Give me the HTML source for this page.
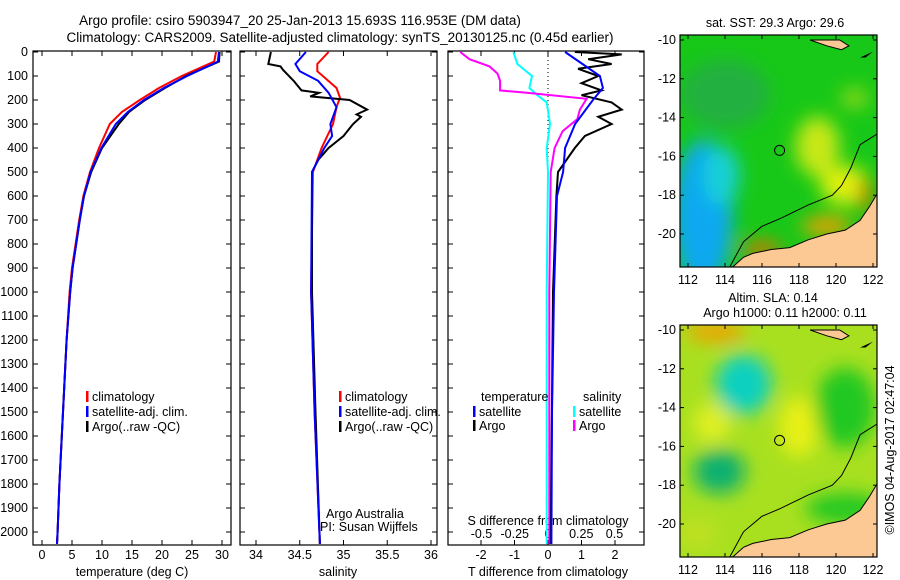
<!DOCTYPE html>
<html><head><meta charset="utf-8"><style>
body{margin:0;background:#fff;}
svg{display:block;font-family:"Liberation Sans",sans-serif;}
text{font-size:12.5px;fill:#000;}
</style></head><body>
<svg id="c" width="900" height="580" viewBox="0 0 900 580">
<defs>
<filter id="bl" x="-50%" y="-50%" width="200%" height="200%"><feGaussianBlur stdDeviation="9"/></filter>
<clipPath id="m1"><rect x="680" y="35" width="197" height="232"/></clipPath>
<clipPath id="m2"><rect x="680" y="325" width="197" height="232"/></clipPath>
<clipPath id="p1"><rect x="33" y="51" width="198" height="494"/></clipPath>
<clipPath id="p2"><rect x="240" y="51" width="197" height="494"/></clipPath>
<clipPath id="p3"><rect x="448" y="51" width="196" height="494"/></clipPath>
</defs>
<text x="300" y="25" text-anchor="middle" style="font-size:13.5px">Argo profile: csiro 5903947_20 25-Jan-2013 15.693S 116.953E (DM data)</text>
<text x="340" y="42" text-anchor="middle" style="font-size:13.5px">Climatology: CARS2009. Satellite-adjusted climatology: synTS_20130125.nc (0.45d earlier)</text>
<g id="g"></g>
</svg>
<script>
// ---- data ----
const tDepth=[0,40,100,150,200,250,300,400,500,600,700,800,900,1000,1200,1400,1600,1800,2000,2050];
const tArgo=[29.6,29.5,24,20.5,17.2,14.5,12.8,10,8.2,7,6.3,5.7,5.1,4.7,4.1,3.7,3.3,2.9,2.6,2.5];
const tSat=[29.5,29.3,24.2,20.3,17,14.3,12.3,9.9,8.1,7,6.3,5.7,5.1,4.7,4.1,3.7,3.3,2.9,2.6,2.5];
const tClim=[29,28.7,23.3,19.5,16.3,13.3,11.3,9.5,8,6.9,6.2,5.6,5,4.6,4.1,3.7,3.3,2.9,2.6,2.5];
const sArgoD=[0,50,60,75,120,160,170,185,200,240,260,270,300,350,400,450,500,700,1000,1500,2050];
const sArgo=[34.17,34.14,34.28,34.31,34.43,34.52,34.72,34.62,35.07,35.27,35.15,35.2,35.11,35.0,34.83,34.71,34.64,34.64,34.64,34.68,34.73];
const sSatD=[0,50,80,120,170,230,300,350,400,500,1000,1500,2050];
const sSat=[34.57,34.45,34.5,34.71,34.83,34.92,34.85,34.87,34.78,34.64,34.63,34.67,34.73];
const sClimD=[0,50,80,150,190,230,300,400,500,1000,1500,2050];
const sClim=[34.83,34.7,34.7,34.92,34.96,34.92,34.88,34.75,34.65,34.63,34.67,34.73];
const dTD=[0,100,150,200,300,400,500,600,1000,1500,2050];
const dTSat=[0.51,1.55,1.64,1.34,0.81,0.51,0.45,0.27,0.18,0.12,0.1];
const dTArgoD=[0,10,30,50,70,100,130,160,180,210,240,270,300,350,400,500,600,1000,2050];
const dTArgo=[0.8,2.2,1.2,1.9,0.9,1.5,1.0,1.6,1.0,1.9,2.2,1.5,1.9,1.1,0.8,0.3,0.25,0.15,0.08];
const dSArgoD=[0,30,60,90,120,160,170,195,240,280,330,400,500,1000,2050];
const dSArgo=[-0.66,-0.59,-0.44,-0.38,-0.36,-0.36,-0.16,0.29,0.24,0.22,0.11,0.05,0.02,0.01,0.01];
const dSSatD=[0,50,100,150,180,210,300,400,500,1000,2050];
const dSSat=[-0.26,-0.23,-0.12,-0.14,-0.08,-0.01,0.015,-0.01,0,-0.01,-0.01];
const depthTicks=[0,100,200,300,400,500,600,700,800,900,1000,1100,1200,1300,1400,1500,1600,1700,1800,1900,2000];
const tTicks=[0,5,10,15,20,25,30];
const sTicks=[34,34.5,35,35.5,36];
const dTTicks=[-2,-1,0,1,2];
const dSTicks=[-0.5,-0.25,0,0.25,0.5];
const dSTickLabels=["-0.5","-0.25","0","0.25","0.5"];
const lonTicks=[112,114,116,118,120,122];
const latTicks=[-10,-12,-14,-16,-18,-20];

// ---- scales ----
const yD=d=>52+0.24*d;
const xT=t=>42+6*t;
const xS=s=>256+87.5*(s-34);
const xDT=v=>548+33.5*v;
const xDS=v=>548+133*v;
const NS='http://www.w3.org/2000/svg';
const G=document.getElementById('g');
function el(tag,attrs,parent){const e=document.createElementNS(NS,tag);for(const k in attrs)e.setAttribute(k,attrs[k]);(parent||G).appendChild(e);return e;}
function txt(x,y,s,anchor,parent,size){const t=el('text',{x:x,y:y,'text-anchor':anchor||'start'},parent);if(size)t.style.fontSize=size+'px';t.textContent=s;return t;}
function line(xs,ds,sx,color,clip,name){
  const pts=xs.map((v,i)=>sx(v).toFixed(1)+','+yD(ds[i]).toFixed(1)).join(' ');
  const p=el('polyline',{points:pts,fill:'none',stroke:color,'stroke-width':2,'clip-path':'url(#'+clip+')'});
  
  
}
function frame(x0,x1,name){
  const r=el('rect',{x:x0,y:51,width:x1-x0,height:494,fill:'none',stroke:'#000','stroke-width':1.2});
  
  
  depthTicks.forEach(d=>{el('line',{x1:x0,x2:x0+5,y1:yD(d),y2:yD(d),stroke:'#000'});el('line',{x1:x1,x2:x1-5,y1:yD(d),y2:yD(d),stroke:'#000'});});
}
// panel 1
frame(33,231,'temperature-panel');
depthTicks.forEach(d=>{const t=txt(28,yD(d)+4,String(d),'end');});
tTicks.forEach(v=>{el('line',{x1:xT(v),x2:xT(v),y1:51,y2:56,stroke:'#000'});el('line',{x1:xT(v),x2:xT(v),y1:545,y2:540,stroke:'#000'});const t=txt(xT(v),559,String(v),'middle');});
{const t=txt(132,576,'temperature (deg C)','middle');}
line(tClim,tDepth,xT,'#f00','p1','temp-climatology-line');
line(tArgo,tDepth,xT,'#000','p1','temp-argo-line');
line(tSat,tDepth,xT,'#00f','p1','temp-satellite-line');
// panel 2
frame(240,437,'salinity-panel');
sTicks.forEach(v=>{el('line',{x1:xS(v),x2:xS(v),y1:51,y2:56,stroke:'#000'});el('line',{x1:xS(v),x2:xS(v),y1:545,y2:540,stroke:'#000'});const t=txt(xS(v),559,String(v),'middle');});
{const t=txt(338,576,'salinity','middle');}
line(sClim,sClimD,xS,'#f00','p2','sal-climatology-line');
line(sArgo,sArgoD,xS,'#000','p2','sal-argo-line');
line(sSat,sSatD,xS,'#00f','p2','sal-satellite-line');
// panel 3
frame(448,644,'difference-panel');
el('line',{x1:548,x2:548,y1:52,y2:200,stroke:'#000','stroke-dasharray':'1,3'});
dTTicks.forEach(v=>{el('line',{x1:xDT(v),x2:xDT(v),y1:51,y2:56,stroke:'#000'});el('line',{x1:xDT(v),x2:xDT(v),y1:545,y2:540,stroke:'#000'});const t=txt(xDT(v),559,String(v),'middle');});
dSTicks.forEach((v,i)=>{const t=txt(xDS(v),538,dSTickLabels[i],'middle');});
{const t=txt(548,525,'S difference from climatology','middle');}
{const t=txt(548,576,'T difference from climatology','middle');}
line(dSSat,dSSatD,xDS,'#0ff','p3','sdiff-satellite-line');
line(dSArgo,dSArgoD,xDS,'#f0f','p3','sdiff-argo-line');
line(dTArgo,dTArgoD,xDT,'#000','p3','tdiff-argo-line');
line(dTSat,dTD,xDT,'#00f','p3','tdiff-satellite-line');
// legends
function leg(x,y,c,s,name){el('rect',{x:x,y:y-10,width:2.5,height:11,fill:c});const t=txt(x+6,y,s,'start');}
leg(86,401,'#f00','climatology','legend-climatology');leg(86,416,'#00f','satellite-adj. clim.','legend-satellite');leg(86,431,'#000','Argo(..raw -QC)','legend-argo');
leg(339,401,'#f00','climatology','legend2-climatology');leg(339,416,'#00f','satellite-adj. clim.','legend2-satellite');leg(339,431,'#000','Argo(..raw -QC)','legend2-argo');
txt(481,401,'temperature');txt(583,401,'salinity');
leg(473,416,'#00f','satellite','legend3-t-satellite');leg(473,430,'#000','Argo','legend3-t-argo');
leg(573,416,'#0ff','satellite','legend3-s-satellite');leg(573,430,'#f0f','Argo','legend3-s-argo');
txt(326,518,'Argo Australia');txt(320,531,'PI: Susan Wijffels');
// ---- maps ----
const mx=lon=>688+18.5*(lon-112);
function map(top,clip,kind,name){
  const my=lat=>top+5+19.4*(-10-lat);
  const g=el('g',{'clip-path':'url(#'+clip+')'});
  
  
  const base=kind==='sst'?'#18c818':'#a8e020';
  el('rect',{x:680,y:top,width:197,height:232,fill:base},g);
  const bg=el('g',{filter:'url(#bl)'},g);
  let blobs;
  if(kind==='sst') blobs=[[112.8,-19,30,75,'#10a8f0'],[113.8,-17,18,30,'#18d0d8'],[114,-12.8,45,35,'#20b040'],[119,-15.5,22,30,'#c8e818'],[120.5,-17.5,25,20,'#e0f010'],[119.5,-19.6,25,10,'#f0a000'],[116,-20.8,20,8,'#e07000'],[121.6,-18,6,18,'#d06000'],[121,-13,14,10,'#90d818']];
  else blobs=[[115,-12.8,28,30,'#10d0c0'],[113.7,-17.3,26,22,'#10b070'],[113.5,-10.1,30,10,'#f0a000'],[113.3,-14.8,18,20,'#e0f020'],[118,-15,20,30,'#e8f018'],[120.5,-14,30,40,'#20c820'],[120.5,-19.2,40,15,'#20c820'],[112.5,-20.5,20,15,'#c0e020']];
  blobs.forEach(b=>el('ellipse',{cx:mx(b[0]),cy:my(b[1]),rx:b[2],ry:b[3],fill:b[4]},bg));
  const coast=[[114.3,-21.8],[115,-21.2],[115.5,-21],[116.5,-20.8],[117.5,-20.7],[118.5,-20.3],[119.5,-20],[120.5,-19.8],[121.3,-19.3],[121.8,-18.6],[122.3,-17.8],[122.5,-17.8],[122.5,-21.8]];
  el('polygon',{points:coast.map(p=>mx(p[0])+','+my(p[1])).join(' '),fill:'#fcc894',stroke:'#000','stroke-width':1},g);
  const isl=[[118.6,-10],[120.2,-10],[120.7,-10.3],[120.3,-10.5],[119.5,-10.3],[118.6,-10]];
  el('polygon',{points:isl.map(p=>mx(p[0])+','+my(p[1])).join(' '),fill:'#fcc894',stroke:'#000'},g);
  el('polygon',{points:[[121.3,-10.9],[122,-10.6],[121.6,-10.9]].map(p=>mx(p[0])+','+my(p[1])).join(' '),fill:'#000'},g);
  const iso=[[114.2,-21.8],[115,-20.4],[116,-19.6],[117,-19.2],[118.5,-18.5],[119.8,-18],[120.3,-17.5],[120.8,-16.6],[121.3,-15.4],[122.3,-14.8]];
  el('polyline',{points:iso.map(p=>mx(p[0])+','+my(p[1])).join(' '),fill:'none',stroke:'#000','stroke-width':1},g);
  el('circle',{cx:mx(116.95),cy:my(-15.69),r:5,fill:'none',stroke:'#000'},g);
  el('rect',{x:680,y:top,width:197,height:232,fill:'none',stroke:'#000','stroke-width':1.2});
  lonTicks.forEach(v=>{el('line',{x1:mx(v),x2:mx(v),y1:top,y2:top+4,stroke:'#000'});el('line',{x1:mx(v),x2:mx(v),y1:top+232,y2:top+228,stroke:'#000'});const t=txt(mx(v),top+249,String(v),'middle');});
  latTicks.forEach(v=>{el('line',{x1:680,x2:684,y1:my(v),y2:my(v),stroke:'#000'});el('line',{x1:877,x2:873,y1:my(v),y2:my(v),stroke:'#000'});const t=txt(676,my(v)+4,String(v),'end');});
}
map(35,'m1','sst','sst-map');
map(325,'m2','sla','sla-map');
{const t=txt(775,27,'sat. SST: 29.3 Argo: 29.6','middle');}
{const t=txt(773,302,'Altim. SLA: 0.14','middle');}
{const t=txt(785,317,'Argo h1000: 0.11 h2000: 0.11','middle');}
{const t=txt(0,0,'©IMOS 04-Aug-2017 02:47:04','middle');t.setAttribute('transform','translate(894,450) rotate(-90)');}
</script>
</body></html>
